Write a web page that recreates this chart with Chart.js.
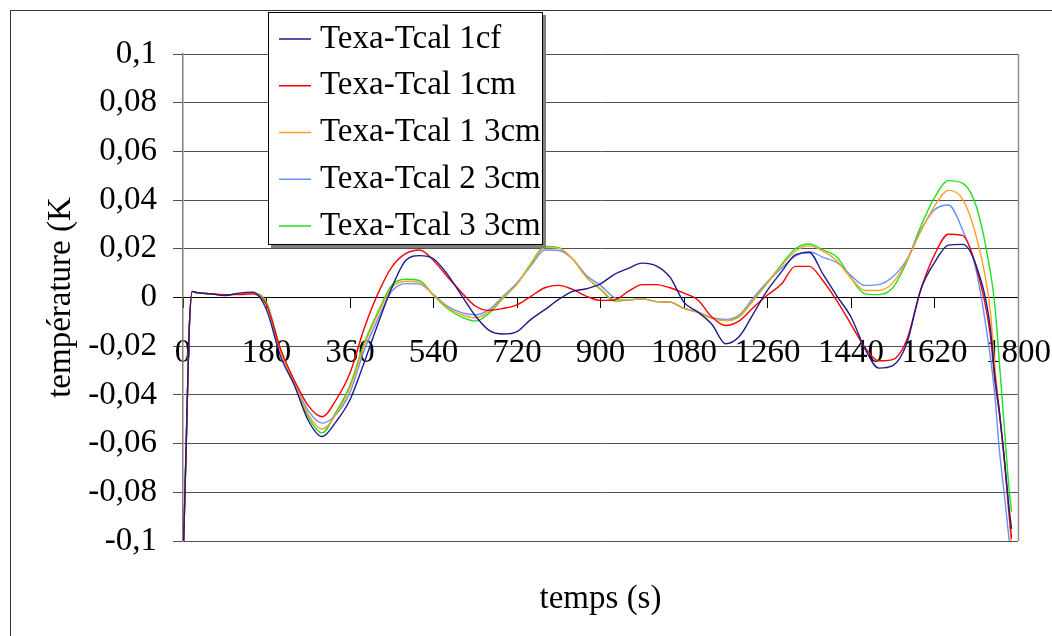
<!DOCTYPE html>
<html>
<head>
<meta charset="utf-8">
<script src="https://cdn.jsdelivr.net/npm/chart.js@4.4.0/dist/chart.umd.min.js"></script>
<style>
body{margin:0;background:#fff;overflow:hidden;}
canvas{display:block;}
</style>
</head>
<body>
<canvas id="c" width="1052" height="636"></canvas>
<script>
// temps (s)
var temps = [0, 7, 13, 20, 30, 60, 90, 120, 150, 180, 210, 240, 270, 300, 330, 360, 390, 420, 450, 480, 510, 540, 570, 600, 630, 660, 690, 720, 750, 780, 810, 840, 870, 900, 930, 960, 990, 1020, 1050, 1080, 1110, 1140, 1170, 1200, 1230, 1260, 1290, 1320, 1350, 1380, 1410, 1440, 1470, 1500, 1530, 1560, 1590, 1620, 1650, 1680, 1710, 1740, 1750, 1760, 1770, 1780, 1786];

var serie1cf = [-0.11, -0.06, -0.015, 0.0025, 0.002, 0.0015, 0.0008, 0.0018, 0.0022, -0.005, -0.024, -0.036, -0.0505, -0.0571, -0.051, -0.042, -0.027, -0.011, 0.004, 0.0152, 0.0172, 0.0159, 0.0095, 0.001, -0.0075, -0.0135, -0.015, -0.014, -0.009, -0.005, -0.0008, 0.0025, 0.0036, 0.0056, 0.0095, 0.012, 0.0141, 0.013, 0.0083, -0.002, -0.006, -0.011, -0.019, -0.0158, -0.0065, 0.003, 0.0105, 0.0175, 0.0185, 0.0095, 0.0005, -0.008, -0.021, -0.029, -0.028, -0.019, 0.003, 0.0143, 0.0215, 0.0218, 0.013, -0.012, -0.032, -0.047, -0.065, -0.085, -0.095];
var serie1cm = [-0.11, -0.06, -0.015, 0.0025, 0.002, 0.0015, 0.0012, 0.0012, 0.0015, -0.003, -0.021, -0.034, -0.0444, -0.049, -0.042, -0.031, -0.013, 0.0015, 0.0125, 0.018, 0.0195, 0.0152, 0.0085, 0.0022, -0.0035, -0.0053, -0.0045, -0.003, 0.0005, 0.004, 0.005, 0.0033, 0.0005, -0.0012, -0.001, 0.0025, 0.0053, 0.0053, 0.004, 0.0018, -0.001, -0.008, -0.0115, -0.0095, -0.004, 0.001, 0.0055, 0.0128, 0.0128, 0.0068, -0.0015, -0.011, -0.0205, -0.026, -0.0255, -0.0175, 0.003, 0.0175, 0.026, 0.0255, 0.0125, -0.015, -0.034, -0.048, -0.066, -0.087, -0.099];
var serie13cm = [-0.11, -0.06, -0.015, 0.0025, 0.002, 0.0015, 0.001, 0.0015, 0.0018, -0.003, -0.022, -0.035, -0.048, -0.054, -0.048, -0.037, -0.02, -0.007, 0.004, 0.0067, 0.0062, 0.001, -0.004, -0.007, -0.0083, -0.0058, 0.0, 0.0055, 0.0135, 0.0205, 0.0202, 0.0158, 0.0083, 0.0036, -0.001, -0.001, -0.0005, -0.0017, -0.0019, -0.0045, -0.006, -0.0085, -0.0095, -0.0074, -0.001, 0.006, 0.013, 0.019, 0.0212, 0.019, 0.015, 0.008, 0.0029, 0.0029, 0.006, 0.015, 0.027, 0.0375, 0.044, 0.0405, 0.025, -0.005, -0.028, -0.047, -0.065, -0.088, -0.102];
var serie23cm = [-0.11, -0.06, -0.015, 0.0025, 0.002, 0.0015, 0.001, 0.0015, 0.0018, -0.003, -0.022, -0.035, -0.0465, -0.0516, -0.048, -0.039, -0.022, -0.009, 0.0025, 0.0057, 0.0055, 0.0012, -0.0035, -0.0062, -0.0071, -0.005, 0.0005, 0.006, 0.013, 0.0195, 0.0193, 0.0158, 0.009, 0.005, 0.0, -0.001, -0.0005, -0.0017, -0.0019, -0.0045, -0.006, -0.0082, -0.009, -0.007, 0.0, 0.0065, 0.012, 0.017, 0.0188, 0.0165, 0.0143, 0.009, 0.005, 0.0053, 0.0085, 0.0155, 0.0275, 0.036, 0.038, 0.028, 0.011, -0.024, -0.04, -0.063, -0.08, -0.098, -0.11];
var serie33cm = [-0.11, -0.06, -0.015, 0.0025, 0.002, 0.0015, 0.001, 0.0015, 0.0018, -0.002, -0.021, -0.035, -0.049, -0.0556, -0.047, -0.036, -0.019, -0.006, 0.005, 0.0075, 0.007, 0.0008, -0.0045, -0.008, -0.0097, -0.0065, -0.0003, 0.0055, 0.014, 0.021, 0.0205, 0.0158, 0.0083, 0.0033, -0.0015, -0.001, -0.0005, -0.0017, -0.0019, -0.0045, -0.006, -0.0085, -0.0095, -0.0078, -0.001, 0.006, 0.0135, 0.02, 0.022, 0.0195, 0.0165, 0.008, 0.0015, 0.0012, 0.004, 0.0145, 0.029, 0.041, 0.048, 0.047, 0.0375, 0.011, -0.003, -0.027, -0.052, -0.077, -0.088];

var noms = ['Texa-Tcal 1cf', 'Texa-Tcal 1cm', 'Texa-Tcal 1 3cm', 'Texa-Tcal 2 3cm', 'Texa-Tcal 3 3cm'];
var couleurs = ['#1c1c8e', '#ff0000', '#ffa020', '#6690ff', '#20e020'];
var series = [serie1cf, serie1cm, serie13cm, serie23cm, serie33cm];

var police = "'Liberation Serif', 'Times New Roman', serif";
Chart.defaults.font.family = police;
Chart.defaults.font.size = 33;
Chart.defaults.color = '#000';

function points(vals){
	return temps.map(function(t, i){ return {x: t, y: vals[i]}; });
}

var datasets = [];
for(var i = 0; i < series.length; i++){
	datasets.push({
		label: noms[i],
		data: points(series[i]),
		borderColor: couleurs[i],
		borderWidth: 1.4,
		pointRadius: 0,
		fill: false,
		cubicInterpolationMode: 'monotone',
		xAxisID: 'x',
		yAxisID: 'y'
	});
}

// cadre exterieur + bord droit de la zone de trace
var cadre = {
	id: 'cadre',
	beforeDraw: function(chart){
		var ctx = chart.ctx;
		ctx.save();
		ctx.fillStyle = '#fff';
		ctx.fillRect(0, 0, chart.width, chart.height);
		ctx.strokeStyle = '#333';
		ctx.lineWidth = 1;
		ctx.strokeRect(10.5, 10.5, 1200, 800);
		ctx.restore();
	},
	beforeDatasetsDraw: function(chart){
		var a = chart.chartArea, ctx = chart.ctx;
		ctx.save();
		ctx.strokeStyle = '#909090';
		ctx.lineWidth = 1.5;
		ctx.beginPath();
		ctx.moveTo(Math.round(a.right) + 0.5, a.top);
		ctx.lineTo(Math.round(a.right) + 0.5, a.bottom);
		ctx.stroke();
		ctx.restore();
	}
};

// legende dessinee a la main (boite au dessus de la zone)
var legende = {
	id: 'legende',
	afterDraw: function(chart){
		var ctx = chart.ctx;
		ctx.save();
		ctx.fillStyle = '#808080';
		ctx.fillRect(271, 15, 275, 233);
		ctx.fillStyle = '#fff';
		ctx.fillRect(268, 12, 275, 233);
		ctx.strokeStyle = '#000';
		ctx.lineWidth = 1;
		ctx.strokeRect(268.5, 12.5, 274, 232);
		ctx.font = '33px ' + police;
		ctx.textBaseline = 'middle';
		ctx.textAlign = 'left';
		chart.data.datasets.forEach(function(ds, i){
			var y = 39 + i * 46.75;
			ctx.strokeStyle = ds.borderColor;
			ctx.lineWidth = 1.5;
			ctx.beginPath();
			ctx.moveTo(279, y);
			ctx.lineTo(311, y);
			ctx.stroke();
			ctx.fillStyle = '#000';
			ctx.fillText(ds.label, 320, y);
		});
		ctx.restore();
	}
};

new Chart(document.getElementById('c'), {
	type: 'line',
	data: {datasets: datasets},
	plugins: [cadre, legende],
	options: {
		responsive: false,
		animation: false,
		layout: {padding: {left: 0, top: 54, right: 34, bottom: 0}},
		plugins: {legend: {display: false}, tooltip: {enabled: false}},
		scales: {
			x: {
				type: 'linear',
				position: {y: 0},
				min: 0,
				max: 1800,
				ticks: {
					stepSize: 180, autoSkip: false, maxRotation: 0, padding: 26,
					callback: function(v){ return String(v); }
				},
				grid: {drawOnChartArea: false, drawTicks: true, tickLength: 10, color: '#000'},
				border: {color: '#000', width: 1},
				afterFit: function(s){ s.paddingLeft = 0; s.paddingRight = 0; }
			},
			xt: {
				type: 'linear',
				axis: 'x',
				position: 'bottom',
				ticks: {display: false},
				grid: {display: false, drawTicks: false},
				border: {display: false},
				title: {display: true, text: 'temps (s)', padding: {top: 0, bottom: 17}},
				afterFit: function(s){ s.height = 95; s.paddingLeft = 0; s.paddingRight = 0; }
			},
			y: {
				min: -0.1,
				max: 0.1,
				ticks: {
					stepSize: 0.02,
					padding: 16,
					callback: function(v){ return String(Math.round(v * 100) / 100).replace('.', ','); }
				},
				grid: {
					tickLength: 10,
					color: function(c){ return c.tick && c.tick.value === 0 ? '#000' : '#505050'; }
				},
				border: {color: '#808080', width: 1.5},
				title: {display: true, text: 'température (K', padding: {top: 42, bottom: 0}},
				afterFit: function(s){ s.width = 183; }
			}
		}
	}
});
</script>
</body>
</html>
